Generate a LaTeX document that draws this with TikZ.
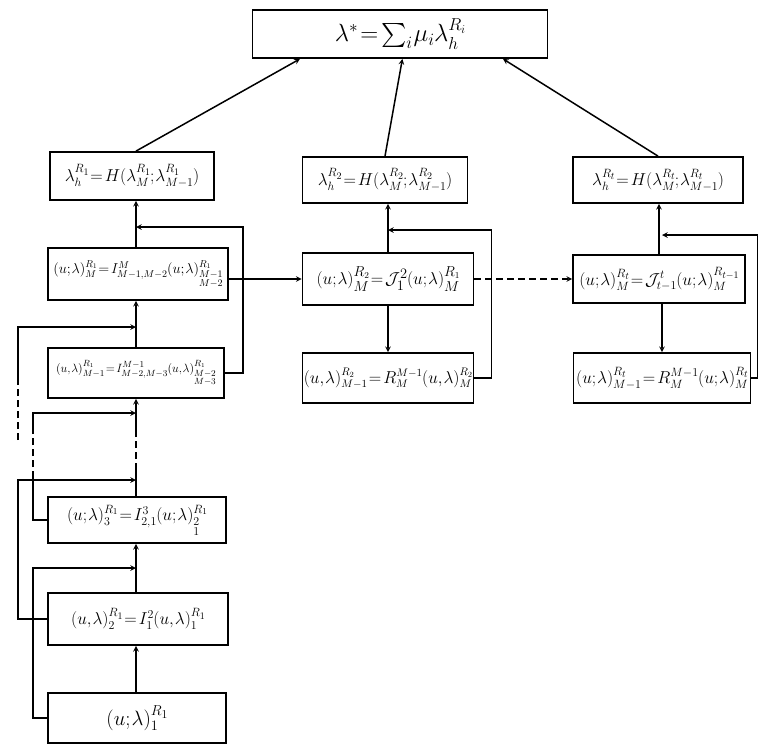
\documentclass[tikz,border=0pt]{standalone}
\usepackage{amsmath,amsfonts,amssymb}
\usepackage{tikz}
\usetikzlibrary{arrows,positioning,calc}

\newcommand{\tightmath}{\thickmuskip=2mu\medmuskip=1mu\thinmuskip=1mu\scriptspace=0pt}

\begin{document}
\begin{tikzpicture}[
  x=1pt, y=-1pt,
  box/.style={rectangle, draw, line width=1.8pt, inner sep=1pt, font=\LARGE\tightmath},
  link/.style={draw, ->, >=stealth, line width=1.5pt},
  plain/.style={draw, line width=1.5pt},
  dashline/.style={dash pattern=on 7pt off 4pt}
]
\useasboundingbox (0,0) rectangle (759,745);
\node[box, minimum width=295pt, minimum height=48pt, font=\fontsize{24}{28}\selectfont\tightmath] (top) at (400,34)
  {$\lambda^{*}=\sum_i \mu_i \lambda_h^{R_i}$};
\node[box, minimum width=164pt, minimum height=48pt] (L1) at (132,176)
  {$\lambda_h^{R_1}=H(\lambda_M^{R_1};\lambda_{M-1}^{R_1})$};
\node[box, minimum width=180pt, minimum height=52pt, font=\Large\tightmath] (L2) at (138,274)
  {$(u;\lambda)_M^{R_1}=I^M_{M-1,M-2}(u;\lambda)^{R_1}_{\substack{M-1\\M-2}}$};
\node[box, minimum width=176pt, minimum height=50pt, font=\fontsize{13}{15}\selectfont\tightmath] (L3) at (136,373)
  {$(u,\lambda)_{M-1}^{R_1}=I^{M-1}_{M-2,M-3}(u,\lambda)^{R_1}_{\substack{M-2\\M-3}}$};
\node[box, minimum width=178pt, minimum height=46pt, font=\fontsize{18}{21}\selectfont\tightmath] (L4) at (137,520)
  {$(u;\lambda)_3^{R_1}=I^3_{2,1}(u;\lambda)^{R_1}_{\substack{2\\1}}$};
\node[box, minimum width=180pt, minimum height=52pt] (L5) at (138,619)
  {$(u,\lambda)_2^{R_1}=I^2_1(u,\lambda)_1^{R_1}$};
\node[box, minimum width=178pt, minimum height=50pt, font=\huge\tightmath] (L6) at (137,718)
  {$(u;\lambda)_1^{R_1}$};
\node[box, minimum width=165pt, minimum height=46pt] (M1) at (385,180)
  {$\lambda_h^{R_2}=H(\lambda_M^{R_2};\lambda_{M-1}^{R_2})$};
\node[box, minimum width=171pt, minimum height=52pt, font=\fontsize{19}{22}\selectfont\tightmath] (M2) at (388,279)
  {$(u;\lambda)_M^{R_2}=\mathcal{J}^2_1(u;\lambda)_M^{R_1}$};
\node[box, minimum width=171pt, minimum height=50pt, font=\fontsize{16}{19}\selectfont\tightmath] (M3) at (388,378)
  {$(u,\lambda)_{M-1}^{R_2}=R_M^{M-1}(u,\lambda)_M^{R_2}$};
\node[box, minimum width=170pt, minimum height=46pt] (R1) at (658,180)
  {$\lambda_h^{R_t}=H(\lambda_M^{R_t};\lambda_{M-1}^{R_t})$};
\node[box, minimum width=172pt, minimum height=48pt] (R2) at (659,279)
  {$(u;\lambda)_M^{R_t}=\mathcal{J}^t_{t-1}(u;\lambda)_M^{R_{t-1}}$};
\node[box, minimum width=177pt, minimum height=50pt] (R3) at (662,378)
  {$(u;\lambda)_{M-1}^{R_t}=R_M^{M-1}(u;\lambda)_M^{R_t}$};

\coordinate (sp) at (136,0);
\coordinate (jE) at (136,227);
\coordinate (jA) at (136,327);
\coordinate (jB) at (136,413);
\coordinate (jC) at (136,480);
\coordinate (jD) at (136,568);
\coordinate (mE) at (388,230);
\coordinate (rE) at (662,235);

\draw[link] (L1.north -| sp) -- ($(top.south west)!0.163!(top.south east)$);
\draw[link] (M1.north) -- ($(top.south west)!0.508!(top.south east)$);
\draw[link] (R1.north) -- ($(top.south west)!0.847!(top.south east)$);

\draw[link] (L6.north -| sp) -- (L5.south -| sp);
\draw[link] (L5.north -| sp) -- (L4.south -| sp);
\draw[plain] (L4.north -| sp) -- (136,470);
\draw[plain, dashline] (136,470) -- (136,430);
\draw[link] (136,430) -- (L3.south -| sp);
\draw[link] (L3.north -| sp) -- (L2.south -| sp);
\draw[link] (L2.north -| sp) -- (L1.south -| sp);

\draw[link] (L3.east) -- ++(18,0) |- (jE);
\draw[link] (L5.west) -| (18,480) -- (jC);
\draw[plain, dashline] (18,440) -- (18,378);
\draw[link] (18,378) -- (18,327) -- (jA);
\draw[plain] (L4.west) -| (33,478);
\draw[plain, dashline] (33,478) -- (33,432);
\draw[link] (33,432) -- (33,413) -- (jB);
\draw[link] (L6.west) -| (33,568) -- (jD);

\draw[link] (L2.east |- M2.west) -- (M2.west);
\draw[link, dashline] (M2.east) -- (R2.west);
\draw[link] (M2.north) -- (M2.north |- M1.south);
\draw[link] (M2.south) -- (M3.north);
\draw[link] (M3.east) -- ++(17,0) |- (mE);
\draw[link] (R2.north) -- (R2.north |- R1.south);
\draw[link] (R2.south -| R3.north) -- (R3.north);
\draw[link] (R3.east) -- ++(6,0) |- (rE);
\end{tikzpicture}
\end{document}
